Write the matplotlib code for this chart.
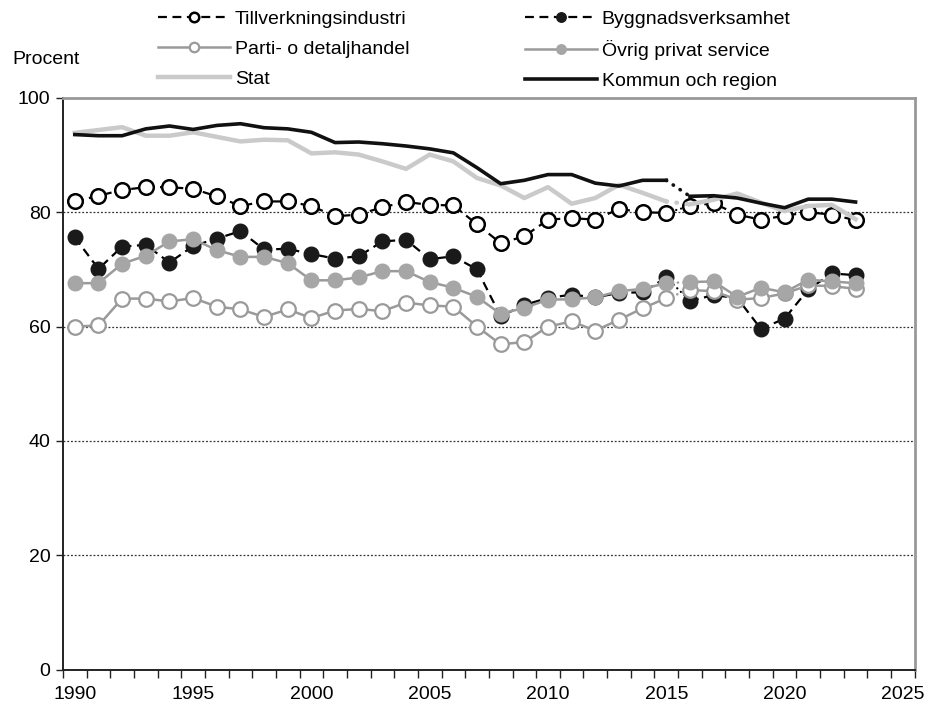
import matplotlib
matplotlib.use("Agg")
import matplotlib.pyplot as plt
from matplotlib.ticker import FixedLocator
import numpy as np

plt.rcParams['font.family'] = ['Liberation Sans', 'DejaVu Sans']

years = list(range(1990, 2024))
break_year = 2015

tillverkning = [81.9, 82.9, 83.9, 84.4, 84.4, 84.1, 82.8, 81.1, 81.9, 81.9,
                81.1, 79.3, 79.6, 80.9, 81.8, 81.3, 81.2, 77.9, 74.6, 75.8,
                78.7, 79.0, 78.7, 80.6, 80.0, 79.9, 81.1, 81.6, 79.6, 78.7,
                79.4, 80.0, 79.6, 78.6]
bygg = [75.6, 70.1, 74.0, 74.3, 71.2, 74.1, 75.4, 76.7, 73.5, 73.6,
        72.7, 71.9, 72.3, 74.9, 75.2, 71.8, 72.3, 70.0, 61.8, 63.8,
        65.0, 65.6, 65.1, 65.9, 66.0, 68.6, 64.5, 65.5, 65.0, 59.6,
        61.4, 66.5, 69.3, 69.0]
handel = [60.0, 60.2, 64.9, 64.9, 64.4, 65.0, 63.5, 63.0, 61.7, 63.0,
          61.5, 62.8, 63.1, 62.7, 64.2, 63.7, 63.5, 60.0, 56.9, 57.3,
          60.0, 60.9, 59.3, 61.2, 63.2, 65.0, 66.4, 66.2, 64.7, 65.0,
          65.8, 67.2, 67.1, 66.6]
ovrig = [67.6, 67.6, 71.0, 72.4, 74.9, 75.3, 73.4, 72.2, 72.2, 71.1,
         68.1, 68.1, 68.6, 69.7, 69.7, 67.8, 66.8, 65.2, 62.2, 63.3,
         64.7, 64.8, 65.1, 66.2, 66.6, 67.6, 67.8, 67.9, 65.2, 66.8,
         66.0, 68.2, 67.9, 67.6]
stat = [93.9, 94.4, 94.9, 93.4, 93.4, 94.0, 93.2, 92.4, 92.7, 92.6,
        90.3, 90.5, 90.1, 88.9, 87.6, 90.1, 88.9, 86.0, 84.7, 82.5,
        84.4, 81.5, 82.5, 84.8, 83.4, 81.9, 81.4, 82.2, 83.3, 81.7,
        80.2, 81.1, 81.3, 78.8]
kommun = [93.6, 93.4, 93.4, 94.6, 95.1, 94.5, 95.2, 95.5, 94.8, 94.6,
          94.0, 92.2, 92.3, 92.0, 91.6, 91.1, 90.4, 87.8, 85.0, 85.6,
          86.6, 86.6, 85.1, 84.6, 85.6, 85.6, 82.8, 82.9, 82.5, 81.6,
          80.8, 82.3, 82.3, 81.8]

labels = ["Tillverkningsindustri", "Byggnadsverksamhet", "Parti- o detaljhandel",
          "Övrig privat service", "Stat", "Kommun och region"]

yticks = [0, 20, 40, 60, 80, 100]
xtick_labels = list(range(1990, 2030, 5))

GREY = '#9a9a9a'
MGREY = '#a6a6a6'
LGREY = '#cacaca'

styles = [
    dict(color='black', lw=1.6, ls=(0, (4, 2.5)), marker='o', ms=10.5, mfc='white', mec='black', mew=1.8),
    dict(color='black', lw=1.6, ls=(0, (4, 2.5)), marker='o', ms=10.5, mfc='#1a1a1a', mec='#1a1a1a', mew=1.0),
    dict(color=GREY, lw=1.8, ls='-', marker='o', ms=10.5, mfc='white', mec=GREY, mew=1.6),
    dict(color=GREY, lw=1.8, ls='-', marker='o', ms=10.5, mfc=MGREY, mec=MGREY, mew=1.0),
    dict(color=LGREY, lw=3.2, ls='-', marker=None),
    dict(color='#111111', lw=2.6, ls='-', marker=None),
]
series = [tillverkning, bygg, handel, ovrig, stat, kommun]

fig = plt.figure(figsize=(9.28, 7.06), dpi=100)
ax = fig.add_axes([63/928, 1 - 669.5/706, (914.7 - 63)/928, (669.5 - 98)/706])

yrs = np.array(years)
i_b = years.index(break_year)
handles = []
for z, (vals, st, lab) in enumerate(zip(series, styles, labels)):
    v = np.array(vals)
    kw = dict(color=st['color'], lw=st['lw'], zorder=3 + z)
    mk = {}
    if st['marker']:
        mk = dict(marker='o', ms=st['ms'], mfc=st['mfc'], mec=st['mec'], mew=st['mew'])
    ax.plot(yrs[i_b:i_b + 2], v[i_b:i_b + 2], color=st['color'], lw=st['lw'],
            ls=(0, (0.1, 2.2)), dash_capstyle='round', zorder=3 + z)
    h, = ax.plot(yrs[:i_b + 1], v[:i_b + 1], ls=st['ls'], **kw, **mk)
    ax.plot(yrs[i_b + 1:], v[i_b + 1:], ls=st['ls'], **kw, **mk)
    handles.append(h)

ax.set_xlim(1989.5, 2025.5)
ax.set_ylim(0, 100)
ax.yaxis.set_major_locator(FixedLocator(yticks))
ax.xaxis.set_major_locator(FixedLocator(xtick_labels))
ax.xaxis.set_minor_locator(FixedLocator(np.arange(1989.5, 2026, 1.0)))
ax.tick_params(axis='x', which='major', length=0, pad=12, labelsize=14)
ax.tick_params(axis='x', which='minor', length=6, width=1.0, direction='out', color='#222222')
ax.tick_params(axis='y', which='major', length=5, width=1.0, direction='out', pad=4, labelsize=14,
               color='#222222')

for yv in [20, 40, 60, 80]:
    ax.axhline(yv, color='#333333', lw=0.9, ls=(0, (1.5, 1.5)), zorder=1)

for s in ['left', 'bottom']:
    ax.spines[s].set_color('#222222')
    ax.spines[s].set_linewidth(1.4)
for s in ['top', 'right']:
    ax.spines[s].set_color('#999999')
    ax.spines[s].set_linewidth(2.0)

fig.text(12/928, 1 - 60/706, 'Procent', fontsize=14, va='center', ha='left')

order = [0, 2, 4, 1, 3, 5]
leg = fig.legend([handles[i] for i in order], [labels[i] for i in order],
                 ncol=2, frameon=False, loc='upper left',
                 bbox_to_anchor=(158/928, 1 - 10/706), fontsize=14,
                 handlelength=3.7, handletextpad=0.25, columnspacing=5.95,
                 labelspacing=0.64, borderpad=0, borderaxespad=0, markerscale=0.65)

fig.savefig('out.png', dpi=100)
